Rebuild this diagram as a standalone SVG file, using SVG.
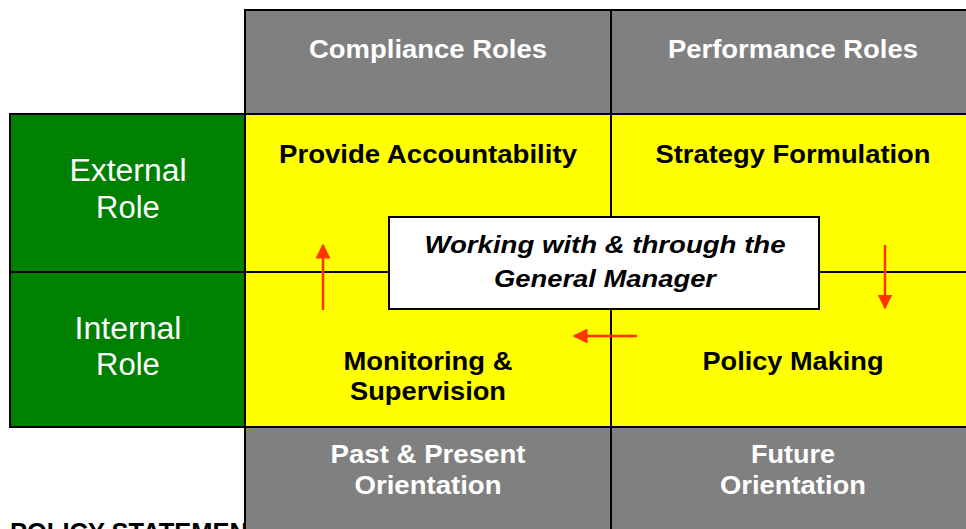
<svg xmlns="http://www.w3.org/2000/svg" width="966" height="529" viewBox="0 0 966 529">
<defs>
<style>
.gray{fill:#808080;stroke:#000;stroke-width:2}
.green{fill:#008000;stroke:#000;stroke-width:2}
.yellow{fill:#FFFF00;stroke:#000;stroke-width:2}
.grid{stroke:#000;stroke-width:2;fill:none}
.wt{font-family:"Liberation Sans",Arial,sans-serif;font-weight:bold;font-size:25px;fill:#fff;text-anchor:middle}
.gt{font-family:"Liberation Sans",Arial,sans-serif;font-size:31px;fill:#fff;text-anchor:middle}
.bt{font-family:"Liberation Sans",Arial,sans-serif;font-weight:bold;font-size:25px;fill:#000;text-anchor:middle}
.it{font-family:"Liberation Sans",Arial,sans-serif;font-weight:bold;font-style:italic;font-size:24px;fill:#000;text-anchor:middle}
.arr{stroke:#FF3300;stroke-width:2.5;fill:none}
</style>
<marker id="ah" viewBox="0 0 10 10" refX="9" refY="5" markerWidth="6" markerHeight="6" orient="auto" markerUnits="strokeWidth">
<path d="M0,0 L10,5 L0,10 Z" fill="#FF3300"/>
</marker>
</defs>
<rect width="966" height="529" fill="#fff"/>
<text x="10" y="541" font-family="Liberation Sans,Arial,sans-serif" font-weight="bold" font-size="25.5" fill="#000">POLICY STATEMENT</text>
<g id="headers">
<rect class="gray" x="245" y="10" width="730" height="104"/>
<line class="grid" x1="611" y1="10" x2="611" y2="114"/>
<text class="wt" x="428" y="58" textLength="238" lengthAdjust="spacingAndGlyphs">Compliance Roles</text>
<text class="wt" x="793" y="58" textLength="250" lengthAdjust="spacingAndGlyphs">Performance Roles</text>
</g>
<g id="footers">
<rect class="gray" x="245" y="427" width="730" height="110"/>
<line class="grid" x1="611" y1="427" x2="611" y2="529"/>
<text class="wt" x="428" y="463" textLength="195" lengthAdjust="spacingAndGlyphs">Past &amp; Present</text>
<text class="wt" x="428" y="494" textLength="147" lengthAdjust="spacingAndGlyphs">Orientation</text>
<text class="wt" x="793" y="463" textLength="84" lengthAdjust="spacingAndGlyphs">Future</text>
<text class="wt" x="793" y="494" textLength="146" lengthAdjust="spacingAndGlyphs">Orientation</text>
</g>
<g id="roles">
<rect class="green" x="10" y="114" width="235" height="158"/>
<rect class="green" x="10" y="272" width="235" height="155"/>
<text class="gt" x="128" y="181" textLength="117" lengthAdjust="spacingAndGlyphs">External</text>
<text class="gt" x="128" y="218">Role</text>
<text class="gt" x="128" y="339" textLength="107" lengthAdjust="spacingAndGlyphs">Internal</text>
<text class="gt" x="128" y="375">Role</text>
</g>
<g id="quadrants">
<rect class="yellow" x="245" y="114" width="730" height="313"/>
<line class="grid" x1="245" y1="272" x2="975" y2="272"/>
<line class="grid" x1="611" y1="114" x2="611" y2="427"/>
<text class="bt" x="428" y="163" textLength="298" lengthAdjust="spacingAndGlyphs">Provide Accountability</text>
<text class="bt" x="793" y="163" textLength="275" lengthAdjust="spacingAndGlyphs">Strategy Formulation</text>
<text class="bt" x="428" y="370" textLength="169" lengthAdjust="spacingAndGlyphs">Monitoring &amp;</text>
<text class="bt" x="428" y="400" textLength="156" lengthAdjust="spacingAndGlyphs">Supervision</text>
<text class="bt" x="793" y="370" textLength="181" lengthAdjust="spacingAndGlyphs">Policy Making</text>
</g>
<g id="center">
<rect x="389" y="217" width="430" height="92" fill="#fff" stroke="#000" stroke-width="2"/>
<text class="it" x="605" y="253" textLength="361" lengthAdjust="spacingAndGlyphs">Working with &amp; through the</text>
<text class="it" x="605" y="287" textLength="222" lengthAdjust="spacingAndGlyphs">General Manager</text>
</g>
<g id="connectors">
<line class="arr" x1="323" y1="310" x2="323" y2="245" marker-end="url(#ah)"/>
<line class="arr" x1="885" y1="245" x2="885" y2="308" marker-end="url(#ah)"/>
<line class="arr" x1="637" y1="336" x2="574" y2="336" marker-end="url(#ah)"/>
</g>
</svg>
